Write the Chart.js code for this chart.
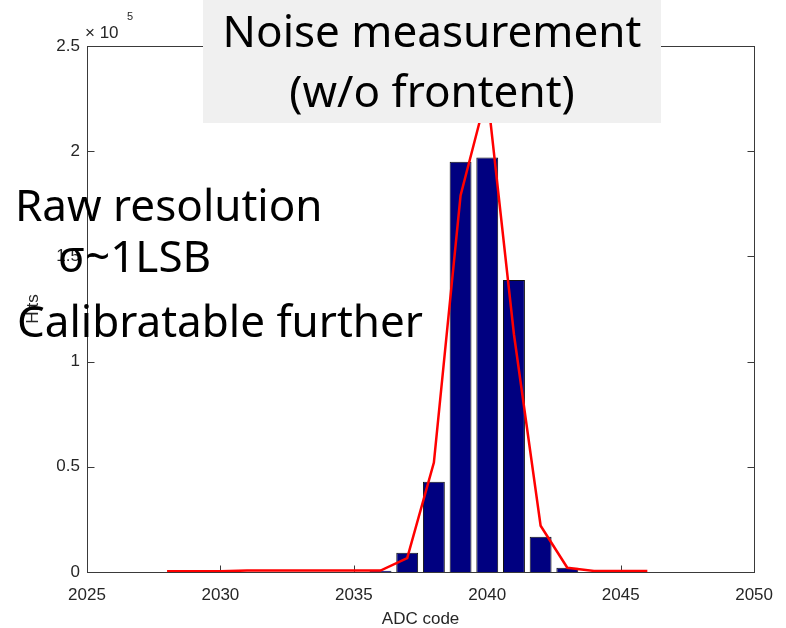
<!DOCTYPE html>
<html>
<head>
<meta charset="utf-8">
<script src="https://cdn.jsdelivr.net/npm/chart.js@4.4.1/dist/chart.umd.min.js"></script>
<style>
  html, body { margin: 0; padding: 0; background: #ffffff; }
  #wrap { width: 786px; height: 628px; }
</style>
</head>
<body>
<div id="wrap"><canvas id="c" width="786" height="628"></canvas></div>
<script>
// Histogram of ADC codes (hits per code)
const adcCodes  = [2036, 2037, 2038, 2039, 2040, 2041, 2042, 2043];
const hitCounts = [600, 9200, 42900, 195000, 197000, 138800, 16800, 2000];

// Red curve: fitted distribution, one point per code
const fitCodes  = [2028, 2029, 2030, 2031, 2032, 2033, 2034, 2035, 2036, 2037, 2038, 2039, 2040, 2041, 2042, 2043, 2044, 2045, 2046];
const fitCounts = [300, 300, 300, 700, 700, 700, 700, 700, 700, 6600, 52000, 179000, 228000, 113000, 22000, 2000, 500, 500, 500];

// Axis ticks
const xTicks = [2025, 2030, 2035, 2040, 2045, 2050];
const yTicks = [0, 50000, 100000, 150000, 200000, 250000];
const yExponent = 5;

// Overlaid slide text
const titleLines = ['Noise measurement', '(w/o frontent)'];
const noteLines  = ['Raw resolution', 'σ~1LSB', 'Calibratable further'];

const axisFont = { family: '"Liberation Sans", Arial, sans-serif', size: 17 };
const axisColor = '#262626';
const frameColor = '#3a3a3a';
const TICK_LEN = 7;

// Box around the plot area with MATLAB-style inward ticks on all four sides
const framePlugin = {
  id: 'frame',
  beforeDatasetsDraw(chart) {
    const { ctx, chartArea: a, scales: { x, y } } = chart;
    ctx.save();
    ctx.strokeStyle = frameColor;
    ctx.lineWidth = 1;
    const L = Math.round(a.left) + 0.5, R = Math.round(a.right) + 0.5;
    const T = Math.round(a.top) + 0.5, B = Math.round(a.bottom) + 0.5;
    ctx.strokeRect(L, T, R - L, B - T);
    ctx.beginPath();
    xTicks.forEach(v => {
      const px = Math.round(x.getPixelForValue(v)) + 0.5;
      ctx.moveTo(px, B); ctx.lineTo(px, B - TICK_LEN);
      ctx.moveTo(px, T); ctx.lineTo(px, T + TICK_LEN);
    });
    yTicks.forEach(v => {
      const py = Math.round(y.getPixelForValue(v)) + 0.5;
      ctx.moveTo(L, py); ctx.lineTo(L + TICK_LEN, py);
      ctx.moveTo(R, py); ctx.lineTo(R - TICK_LEN, py);
    });
    ctx.stroke();
    ctx.restore();
  },
  afterDraw(chart) {
    const { ctx, chartArea: a } = chart;
    ctx.save();
    // exponent label of the y axis
    ctx.fillStyle = axisColor;
    ctx.textBaseline = 'alphabetic';
    ctx.textAlign = 'left';
    ctx.font = '17px "Liberation Sans", Arial, sans-serif';
    ctx.fillText('\u00d7 10', a.left - 2, a.top - 8);
    ctx.font = '11px "Liberation Sans", Arial, sans-serif';
    ctx.fillText(String(yExponent), a.left + 40, a.top - 26);
    ctx.restore();
  }
};

// Slide text drawn over the chart
const overlayPlugin = {
  id: 'overlay',
  afterDraw(chart) {
    const { ctx } = chart;
    ctx.save();
    ctx.fillStyle = '#f0f0f0';
    ctx.fillRect(203, 0, 458, 123);
    ctx.fillStyle = '#000000';
    ctx.font = '44px "Noto Sans", sans-serif';
    ctx.textBaseline = 'alphabetic';
    ctx.textAlign = 'center';
    ctx.fillText(titleLines[0], 432, 47);
    ctx.fillText(titleLines[1], 432, 107);
    ctx.textAlign = 'left';
    ctx.fillText(noteLines[0], 15, 221);
    ctx.fillText(noteLines[1], 58, 272);
    ctx.fillText(noteLines[2], 17, 337);
    ctx.restore();
  }
};

new Chart(document.getElementById('c'), {
  type: 'bar',
  data: {
    datasets: [
      {
        type: 'line',
        label: 'fit',
        data: fitCodes.map((c, i) => ({ x: c, y: fitCounts[i] })),
        borderColor: '#ff0000',
        borderWidth: 2.5,
        pointRadius: 0,
        tension: 0,
        fill: false,
        order: 0
      },
      {
        type: 'bar',
        label: 'Hits',
        data: adcCodes.map((c, i) => ({ x: c, y: hitCounts[i] })),
        backgroundColor: '#000080',
        borderColor: '#111111',
        borderWidth: 1,
        categoryPercentage: 1,
        barPercentage: 0.82,
        order: 1
      }
    ]
  },
  options: {
    responsive: false,
    animation: false,
    devicePixelRatio: 1,
    layout: { padding: { left: 0, top: 46, right: 31, bottom: 0 } },
    plugins: {
      legend: { display: false },
      tooltip: { enabled: false },
      title: { display: false }
    },
    scales: {
      x: {
        type: 'linear',
        min: 2025,
        max: 2050,
        offset: false,
        afterBuildTicks: s => { s.ticks = xTicks.map(v => ({ value: v })); },
        afterFit: s => { s.height = 56; },
        grid: { display: false, drawTicks: false },
        border: { display: false },
        ticks: {
          font: axisFont,
          color: axisColor,
          padding: 13,
          maxRotation: 0,
          autoSkip: false,
          callback: v => String(v)
        },
        title: {
          display: true,
          text: 'ADC code',
          font: { family: axisFont.family, size: 17, lineHeight: 1 },
          color: axisColor,
          padding: { top: 0, bottom: 0 }
        }
      },
      y: {
        type: 'linear',
        min: 0,
        max: 250000,
        afterBuildTicks: s => { s.ticks = yTicks.map(v => ({ value: v })); },
        afterFit: s => { s.width = 87; },
        grid: { display: false, drawTicks: false },
        border: { display: false },
        ticks: {
          font: axisFont,
          color: axisColor,
          padding: 7,
          autoSkip: false,
          callback: v => String(v / Math.pow(10, yExponent))
        },
        title: {
          display: true,
          text: 'Hits',
          font: { family: axisFont.family, size: 17, lineHeight: 1 },
          color: axisColor,
          padding: { top: 25, bottom: 0 }
        }
      }
    }
  },
  plugins: [framePlugin, overlayPlugin]
});
</script>
</body>
</html>
